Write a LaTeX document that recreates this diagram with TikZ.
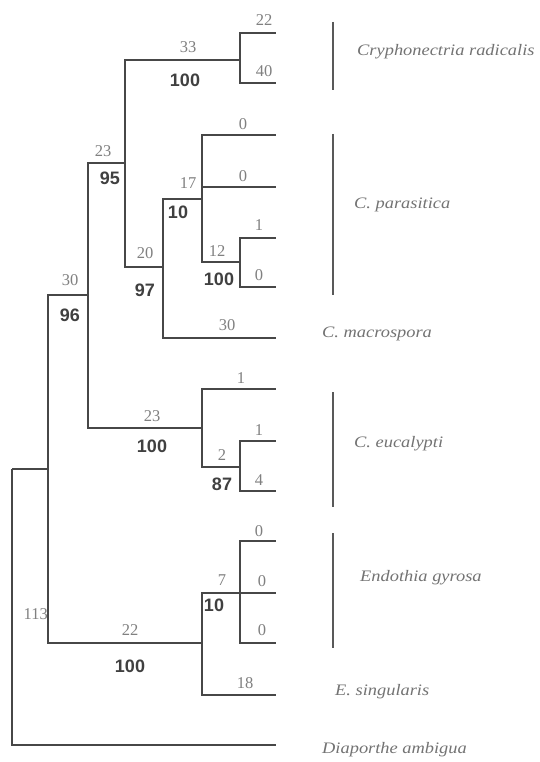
\documentclass[tikz,border=0pt]{standalone}
\usepackage{fontspec}
\setmainfont{Liberation Serif}
\setsansfont{Liberation Sans}
\newcommand{\taxtxt}[1]{\scalebox{1.15}[1]{#1}}
\begin{document}
\begin{tikzpicture}[x=1pt,y=-1pt,
  br/.style={draw=black!72,line width=1.2pt},
  bar/.style={draw=black!65,line width=1.5pt},
  blen/.style={font=\fontsize{16.5}{16.5}\selectfont,text=black!50,inner sep=0pt},
  boot/.style={font=\sffamily\bfseries\fontsize{18}{18}\selectfont,text=black!75,inner sep=0pt},
  taxon/.style={font=\itshape\fontsize{16}{16}\selectfont,text=black!55,inner sep=0pt,anchor=west}]
\useasboundingbox[fill=white] (0,0) rectangle (539,762);
% internal nodes (x of vertical line, y of incoming branch)
\coordinate (R) at (12,469);
\coordinate (Y) at (48,469);
\coordinate (X) at (88,295);
\coordinate (P95) at (125,163);
\coordinate (A) at (240,60);
\coordinate (P97) at (163,267);
\coordinate (P10) at (202,199);
\coordinate (P12) at (240,262);
\coordinate (Pe) at (202,428);
\coordinate (P87) at (240,467);
\coordinate (E) at (202,643);
\coordinate (P7) at (240,593);
% leaves
\coordinate (L1) at (276,33);
\coordinate (L2) at (276,83);
\coordinate (L3) at (276,135);
\coordinate (L4) at (276,187);
\coordinate (L5) at (276,238);
\coordinate (L6) at (276,287);
\coordinate (Lm) at (276,338);
\coordinate (L7) at (276,389);
\coordinate (L8) at (276,441);
\coordinate (L9) at (276,491);
\coordinate (L10) at (276,541);
\coordinate (L11) at (276,593);
\coordinate (L12) at (276,643);
\coordinate (Ls) at (276,695);
\coordinate (Ld) at (276,745);
% branches
\draw[br] (R) |- (Y);
\draw[br] (R) |- (Ld);
\draw[br] (Y) |- (X);
\draw[br] (Y) |- (E);
\draw[br] (X) |- (P95);
\draw[br] (X) |- (Pe);
\draw[br] (P95) |- (A);
\draw[br] (P95) |- (P97);
\draw[br] (A) |- (L1);
\draw[br] (A) |- (L2);
\draw[br] (P97) |- (P10);
\draw[br] (P97) |- (Lm);
\draw[br] (P10) |- (L3);
\draw[br] (P10) |- (L4);
\draw[br] (P10) |- (P12);
\draw[br] (P12) |- (L5);
\draw[br] (P12) |- (L6);
\draw[br] (Pe) |- (L7);
\draw[br] (Pe) |- (P87);
\draw[br] (P87) |- (L8);
\draw[br] (P87) |- (L9);
\draw[br] (E) |- (P7);
\draw[br] (E) |- (Ls);
\draw[br] (P7) |- (L10);
\draw[br] (P7) |- (L11);
\draw[br] (P7) |- (L12);
% branch lengths
\node[blen] (t1) at (264,20) {22};
\node[blen] (t2) at (264,71) {40};
\node[blen] (t3) at (188,47) {33};
\node[blen] (t4) at (243,124) {0};
\node[blen] (t5) at (243,176) {0};
\node[blen] (t6) at (103,151) {23};
\node[blen] (t7) at (188,183) {17};
\node[blen] (t8) at (259,225) {1};
\node[blen] (t9) at (259,275) {0};
\node[blen] (t10) at (217,251) {12};
\node[blen] (t11) at (145,253) {20};
\node[blen] (t12) at (70,280) {30};
\node[blen] (t13) at (227,325) {30};
\node[blen] (t14) at (241,378) {1};
\node[blen] (t15) at (152,416) {23};
\node[blen] (t16) at (259,430) {1};
\node[blen] (t17) at (259,480) {4};
\node[blen] (t18) at (222,455) {2};
\node[blen] (t19) at (259,531) {0};
\node[blen] (t20) at (222,580) {7};
\node[blen] (t21) at (262,581) {0};
\node[blen] (t22) at (262,630) {0};
\node[blen,anchor=east] (t23) at (48,614) {113};
\node[blen] (t24) at (130,630) {22};
\node[blen] (t25) at (245,683) {18};
% bootstrap values
\node[boot] (b1) at (185,80) {100};
\node[boot] (b2) at (110,178) {95};
\node[boot] (b3) at (178,212) {10};
\node[boot] (b4) at (219,279) {100};
\node[boot] (b5) at (145,290) {97};
\node[boot] (b6) at (70,315) {96};
\node[boot] (b7) at (152,446) {100};
\node[boot] (b8) at (222,484) {87};
\node[boot] (b9) at (214,605) {10};
\node[boot] (b10) at (130,666) {100};
% clade bars
\coordinate (c1a) at (333,22); \coordinate (c1b) at (333,90);
\coordinate (c2a) at (333,134); \coordinate (c2b) at (333,295);
\coordinate (c3a) at (333,392); \coordinate (c3b) at (333,507);
\coordinate (c4a) at (333,533); \coordinate (c4b) at (333,648);
\draw[bar] (c1a) -- (c1b);
\draw[bar] (c2a) -- (c2b);
\draw[bar] (c3a) -- (c3b);
\draw[bar] (c4a) -- (c4b);
% taxon labels
\node[taxon] (n1) at (357,52) {\taxtxt{Cryphonectria radicalis}};
\node[taxon] (n2) at (354,205) {\taxtxt{C. parasitica}};
\node[taxon] (n3) at (322,334) {\taxtxt{C. macrospora}};
\node[taxon] (n4) at (354,444) {\taxtxt{C. eucalypti}};
\node[taxon] (n5) at (360,578) {\taxtxt{Endothia gyrosa}};
\node[taxon] (n6) at (335,692) {\taxtxt{E. singularis}};
\node[taxon] (n7) at (322,750) {\taxtxt{Diaporthe ambigua}};
\end{tikzpicture}
\end{document}
